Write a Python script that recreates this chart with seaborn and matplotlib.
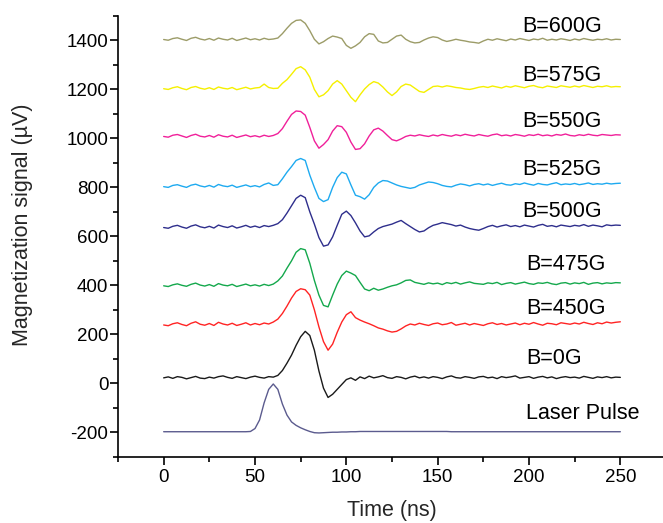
import numpy as np
import matplotlib
matplotlib.use("Agg")
import matplotlib.pyplot as plt
from matplotlib.ticker import MultipleLocator
import seaborn as sns

# sample times (ns), 2.5 ns apart
time_ns = np.linspace(0, 250, 101)

laser = [-198, -198, -198, -198, -198, -198, -198, -198, -198, -198,
         -198, -198, -198, -198, -198, -198, -198, -198, -198, -197,
         -185, -150, -80, -25, -3, -25, -85, -130, -158, -172,
         -182, -190, -197, -202, -203, -202, -201, -200, -200, -199,
         -199, -198, -198, -197, -197, -197, -197, -197, -197, -197,
         -197, -197, -197, -197, -197, -197, -197, -197, -197, -197,
         -197, -197, -197, -198, -198, -198, -198, -198, -198, -198,
         -198, -198, -198, -198, -198, -198, -198, -198, -198, -198,
         -198, -198, -198, -198, -198, -198, -198, -198, -198, -198,
         -198, -198, -198, -198, -198, -198, -198, -198, -198, -198,
         -198]

b0 = [22, 26, 20, 27, 24, 18, 23, 28, 21, 19,
      25, 21, 27, 30, 24, 20, 27, 23, 19, 25,
      29, 24, 21, 27, 25, 32, 52, 82, 115, 155,
      190, 212, 195, 135, 50, -20, -58, -45, -25, -5,
      15, 22, 12, 26, 19, 29, 22, 26, 31, 23,
      20, 27, 24, 18, 25, 29, 22, 26, 21, 27,
      24, 19, 26, 30, 23, 21, 27, 24, 20, 26,
      28, 22, 25, 19, 27, 23, 26, 30, 21, 24,
      27, 20, 25, 28, 22, 26, 19, 24, 27, 23,
      25, 21, 28, 24, 20, 26, 23, 27, 22, 25,
      24]

b450 = [238, 235, 243, 247, 240, 235, 245, 251, 241, 237,
        244, 236, 249, 242, 238, 245, 236, 241, 247, 238,
        244, 239, 246, 242, 250, 262, 285, 315, 348, 375,
        386, 382, 360, 300, 230, 170, 135, 160, 208, 250,
        280, 292, 268, 258, 250, 243, 235, 226, 221, 214,
        209, 212, 222, 234, 242, 238, 245, 240, 236, 243,
        246, 239, 242, 248, 237, 241, 245, 238, 244, 240,
        236, 243, 247, 240, 244, 238, 242, 246, 239, 245,
        241, 248, 242, 237, 245, 243, 239, 247, 244, 241,
        246, 242, 249, 244, 240, 247, 243, 250, 246, 249,
        251]

b475 = [398, 395, 402, 406, 400, 396, 404, 409, 401, 397,
        403, 396, 407, 401, 398, 404, 395, 400, 405, 398,
        402, 397, 404, 399, 405, 418, 438, 470, 500, 535,
        550, 545, 490, 420, 360, 318, 312, 360, 405, 440,
        458, 450, 440, 412, 385, 378, 388, 380, 385, 392,
        398, 402, 410, 420, 422, 412, 408, 404, 410, 406,
        409, 403, 411, 407, 412, 405, 410, 414, 408, 406,
        404, 410, 407, 412, 403, 408, 411, 405, 409, 413,
        407, 404, 410, 408, 412, 406, 403, 409, 411, 405,
        410, 407, 412, 404, 409, 411, 406, 410, 408, 411,
        410]

b500 = [636, 633, 641, 645, 638, 633, 642, 647, 639, 635,
        641, 634, 646, 640, 636, 643, 634, 639, 645, 637,
        642, 636, 644, 640, 645, 652, 668, 695, 725, 755,
        768, 758, 700, 650, 595, 560, 565, 598, 645, 690,
        703, 685, 655, 622, 598, 602, 618, 632, 640, 645,
        650, 658, 665, 652, 640, 628, 618, 622, 635, 645,
        650, 656, 652, 648, 642, 646, 638, 632, 628, 625,
        632, 640, 645, 638, 643, 647, 640, 644, 639, 646,
        642, 638, 645, 649, 641, 644, 639, 646, 643, 640,
        645, 642, 648, 641, 646, 643, 639, 647, 644, 646,
        645]

b525 = [803, 800, 808, 811, 805, 800, 809, 813, 806, 802,
        808, 801, 812, 806, 803, 809, 800, 805, 810, 803,
        807, 802, 812, 818, 808, 811, 835, 862, 885, 910,
        918, 910, 850, 800, 755, 742, 750, 800, 840, 862,
        855, 810, 768, 762, 752, 770, 800, 818, 828, 826,
        818, 810, 804, 800, 796, 800, 810, 816, 822, 820,
        815, 808, 804, 802, 809, 814, 811, 806, 812, 815,
        810, 814, 808, 813, 817, 811, 809, 815, 812, 818,
        813, 809, 816, 812, 810, 815, 819, 811, 814, 812,
        816, 811, 814, 818, 812, 815, 813, 817, 814, 816,
        817]

b550 = [1008, 1005, 1013, 1016, 1010, 1004, 1012, 1017, 1009, 1006,
        1012, 1005, 1015, 1009, 1006, 1013, 1004, 1009, 1014, 1007,
        1011, 1006, 1013, 1008, 1012, 1020, 1040, 1070, 1098, 1112,
        1110, 1095, 1045, 990, 960, 975, 995, 1030, 1052, 1048,
        1025, 985, 955, 958, 978, 1010, 1035, 1042, 1030, 1012,
        995, 990, 998, 1008, 1013, 1010, 1015, 1011, 1008, 1014,
        1010, 1016, 1012, 1009, 1015, 1011, 1017, 1013, 1010, 1016,
        1012, 1009, 1015, 1018, 1011, 1014, 1010, 1016, 1013, 1009,
        1015, 1012, 1017, 1011, 1014, 1010, 1016, 1013, 1018, 1012,
        1010, 1015, 1012, 1017, 1013, 1011, 1016, 1014, 1012, 1015,
        1014]

b575 = [1203, 1200, 1207, 1211, 1204, 1199, 1208, 1212, 1205, 1201,
        1207, 1200, 1210, 1205, 1202, 1208, 1199, 1204, 1209, 1202,
        1206, 1208, 1222, 1208, 1204, 1205, 1225, 1240, 1262, 1285,
        1293, 1280, 1250, 1200, 1170, 1178, 1195, 1222, 1236, 1222,
        1195, 1168, 1150, 1178, 1202, 1220, 1232, 1226, 1210, 1190,
        1175, 1190, 1212, 1222, 1218, 1205, 1192, 1188, 1200, 1212,
        1214, 1210, 1215, 1212, 1208, 1206, 1202, 1200, 1204, 1209,
        1212, 1208, 1214, 1210, 1206, 1213, 1209, 1215, 1211, 1207,
        1213, 1216, 1210, 1207, 1214, 1211, 1208, 1215, 1212, 1209,
        1214, 1210, 1216, 1212, 1208, 1213, 1211, 1215, 1210, 1212,
        1211]

b600 = [1404, 1401, 1408, 1411, 1405, 1400, 1409, 1413, 1406, 1402,
        1408, 1401, 1410, 1405, 1402, 1409, 1400, 1405, 1410, 1403,
        1407, 1402, 1409, 1404, 1406, 1410, 1428, 1450, 1470, 1482,
        1484, 1470, 1440, 1405, 1386, 1395, 1408, 1418, 1414, 1408,
        1380, 1368, 1378, 1392, 1415, 1428, 1425, 1398, 1390, 1392,
        1405, 1418, 1422, 1405, 1395, 1390, 1392, 1402, 1410, 1415,
        1412, 1402, 1396, 1400, 1405, 1401, 1398, 1394, 1392, 1389,
        1398, 1405, 1401, 1407, 1403, 1399, 1406, 1402, 1408, 1404,
        1400, 1406, 1403, 1409, 1401, 1405, 1402, 1407, 1404, 1400,
        1406, 1402, 1408, 1404, 1401, 1405, 1403, 1407, 1402, 1405,
        1404]

labels = ["Laser Pulse", "B=0G", "B=450G", "B=475G", "B=500G",
          "B=525G", "B=550G", "B=575G", "B=600G"]
traces = [laser, b0, b450, b475, b500, b525, b550, b575, b600]
colors = ["#5b5b8e", "#1a1a1a", "#ff2424", "#14a84c", "#2e2e8c",
          "#1eaaf0", "#f0209a", "#f5f000", "#9c9c68"]
# label baselines (data units)
label_y = [-145, 77, 281, 461, 677, 850, 1045, 1234, 1436]
label_x = [198.5, 198.5, 198.5, 198.5, 196.5, 196.5, 196.5, 196.5, 196.5]

sns.set_theme(style="ticks")
plt.rcParams["font.family"] = ["Liberation Sans", "DejaVu Sans"]
plt.rcParams["axes.unicode_minus"] = False

fig = plt.figure(figsize=(6.63, 5.23), dpi=100)
ax = fig.add_axes([118 / 663, 66.3 / 523, 548 / 663, 440.7 / 523])

for vals, col in zip(traces, colors):
    sns.lineplot(x=time_ns, y=vals, color=col, linewidth=1.0, ax=ax)

for lab, lx, ly in zip(labels, label_x, label_y):
    ax.text(lx, ly, lab, fontsize=15.5, ha="left", va="baseline", color="black")

ax.set_xlim(-25, 275)
ax.set_ylim(-300, 1500)
ax.xaxis.set_major_locator(MultipleLocator(50))
ax.xaxis.set_minor_locator(MultipleLocator(25))
ax.yaxis.set_major_locator(MultipleLocator(200))
ax.yaxis.set_minor_locator(MultipleLocator(100))

for s in ["top", "right"]:
    ax.spines[s].set_visible(False)
for s in ["left", "bottom"]:
    ax.spines[s].set_linewidth(1.2)
    ax.spines[s].set_color("black")

ax.tick_params(which="major", length=5.5, width=1.2, direction="out",
               labelsize=13.5, colors="black")
ax.tick_params(which="minor", length=3.5, width=1.2, direction="out", colors="black")
ax.tick_params(axis="y", which="major", pad=1.5)
ax.tick_params(axis="x", which="major", pad=3)

ax.set_xlabel("Time (ns)", fontsize=15.5)
ax.set_ylabel("Magnetization signal (\u00b5V)", fontsize=15.5)
ax.xaxis.set_label_coords(0.5, -0.098)
ax.yaxis.set_label_coords(-0.155, 0.526)

fig.savefig("out.png", dpi=100)
